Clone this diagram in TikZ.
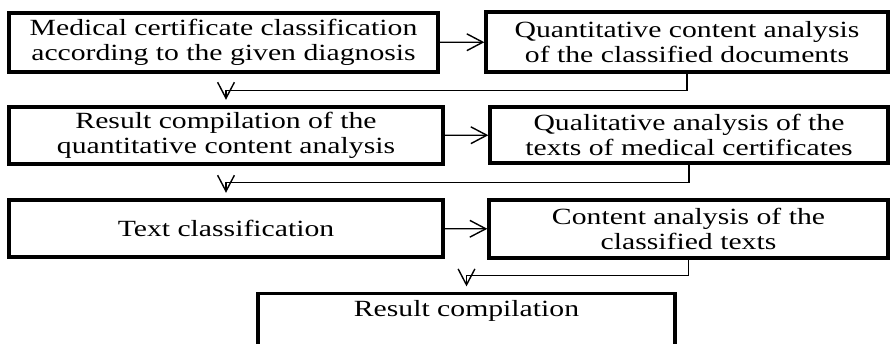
\documentclass[tikz,border=0pt]{standalone}
\usepackage{fontspec}
\setmainfont[FakeStretch=1.28]{Liberation Serif}
\usetikzlibrary{calc,arrows.meta}
\usetikzlibrary{positioning}

\begin{document}
\begin{tikzpicture}[
    x=0.025cm, y=-0.025cm,
    box style/.style={draw, line width=2.3pt, align=center, inner sep=0pt,
        font=\fontsize{16.5}{17.8}\selectfont},
    link style/.style={draw, line width=1pt, -{Straight Barb[length=0.4cm, width=0.42cm, line width=1pt]}},
    every edge/.style={link style}
]

% page frame, same proportions as the reference
\useasboundingbox (0,0) rectangle (890,343);

\node[box style, minimum width=10.725cm, minimum height=1.475cm] (sort) at (223.5,42.5)
    {Medical certificate classification\\according to the given diagnosis};
\node[box style, minimum width=10.05cm, minimum height=1.5cm] (quant) at (687,42)
    {Quantitative content analysis\\of the classified documents};
\node[box style, minimum width=10.85cm, minimum height=1.425cm] (compq) at (226,135.5)
    {Result compilation of the\\quantitative content analysis};
\node[box style, minimum width=9.95cm, minimum height=1.4cm] (qual) at (689,135)
    {Qualitative analysis of the\\texts of medical certificates};
\node[box style, minimum width=10.85cm, minimum height=1.425cm] (tclass) at (226,228.5)
    {Text classification};
\node[box style, minimum width=9.975cm, minimum height=1.45cm] (cont) at (688.5,229)
    {Content analysis of the\\classified texts};
\node[draw, line width=2.3pt, inner sep=0pt, minimum width=10.425cm,
      text height=0.575cm, text depth=1cm, anchor=north,
      font=\fontsize{16.5}{17.8}\selectfont] (res) at (466.5,292) {Result compilation};

\path (sort) edge (quant);
\path (compq) edge (qual);
\path (tclass) edge (cont);

\draw[link style, shorten >=4] (quant.south) -- ++(0,17) -| (compq.north);
\draw[link style, shorten >=4] (qual.south) -- ++(0,18) -| (tclass.north);
\draw[link style, shorten >=4] (cont.south) -- ++(0,16) -| (res.north);

\end{tikzpicture}
\end{document}
